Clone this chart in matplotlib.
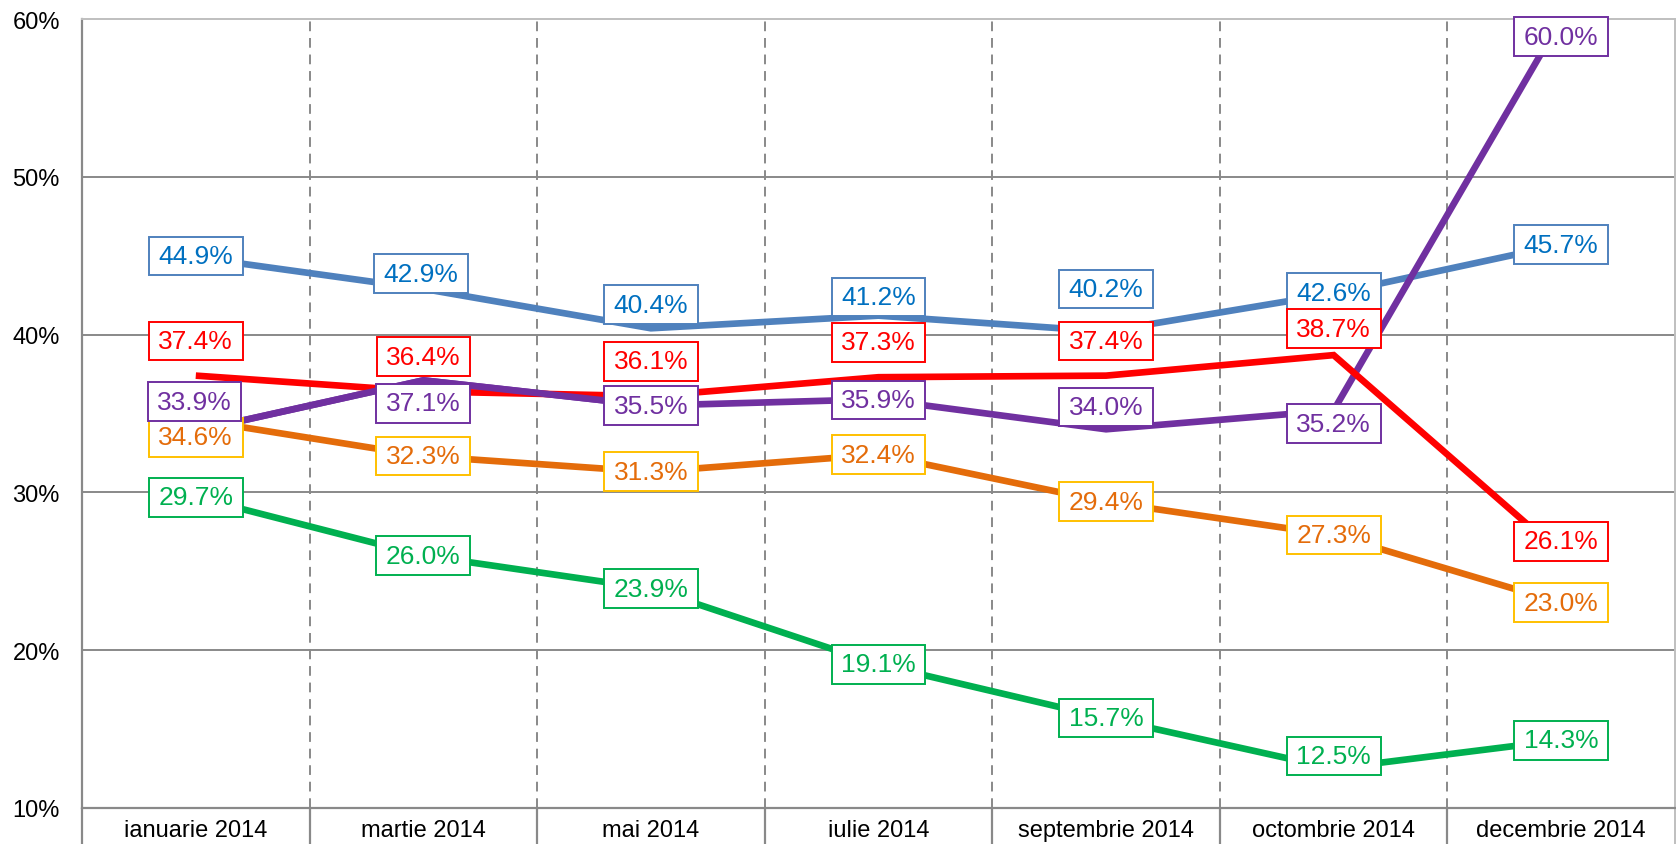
import matplotlib
matplotlib.use("Agg")
import matplotlib.pyplot as plt
from matplotlib.lines import Line2D
from matplotlib.path import Path

plt.rcParams['font.family'] = ['Liberation Sans', 'DejaVu Sans']

# ---- data ----
months = ["ianuarie 2014", "martie 2014", "mai 2014", "iulie 2014",
          "septembrie 2014", "octombrie 2014", "decembrie 2014"]
blue_vals = [44.9, 42.9, 40.4, 41.2, 40.2, 42.6, 45.7]
red_vals = [37.4, 36.4, 36.1, 37.3, 37.4, 38.7, 26.1]
purple_vals = [33.9, 37.1, 35.5, 35.9, 34.0, 35.2, 60.0]
orange_vals = [34.6, 32.3, 31.3, 32.4, 29.4, 27.3, 23.0]
green_vals = [29.7, 26.0, 23.9, 19.1, 15.7, 12.5, 14.3]
y_ticks = [10, 20, 30, 40, 50, 60]

# ---- label offsets (points, dx/dy) ----
blue_off = [(0, 1), (-2, 11), (0, 17), (0, 13.5), (0, 30.5), (0, 0.5), (0, 0)]
red_off = [(0, 25), (0, 25), (0, 25), (0, 25), (0, 25), (0, 19), (0, 9)]
purple_off = [(-1, 21), (0, -16.5), (0, 0), (0, -0.5), (0, 16), (0, -9.5), (0, -12.7)]
orange_off = [(0, -12.5), (0, 0), (0, 0), (0, 0), (0, 0), (0, 0), (0, 0)]
green_off = [(0, 0), (0, 0), (0, 0), (0, 0), (0, 0), (0, 9), (0, 0)]

series = [
    # values, line color, text color, box edge, zorder, offsets
    (blue_vals, "#4F81BD", "#0070C0", "#4F81BD", 3, blue_off),
    (orange_vals, "#E46C0A", "#E46C0A", "#FFC000", 4, orange_off),
    (green_vals, "#00B050", "#00B050", "#00B050", 4, green_off),
    (purple_vals, "#7030A0", "#7030A0", "#7030A0", 5, purple_off),
    (red_vals, "#FF0000", "#FF0000", "#FF0000", 6, red_off),
]


def label_box(x0, y0, width, height, mutation_size):
    """Rectangle with wider horizontal than vertical padding."""
    px = 0.36 * mutation_size
    py = 0.28 * mutation_size
    x0, y0 = x0 - px, y0 - py
    x1, y1 = x0 + width + 2 * px, y0 + height + 2 * py
    return Path([(x0, y0), (x1, y0), (x1, y1), (x0, y1), (x0, y0)],
                [Path.MOVETO, Path.LINETO, Path.LINETO, Path.LINETO, Path.CLOSEPOLY])


W, H = 1676, 845
fig = plt.figure(figsize=(W / 100, H / 100), dpi=100)
left, right, top, bottom = 82, 1675, 20, 809
ax = fig.add_axes([left / W, 1 - bottom / H, (right - left) / W, (bottom - top) / H])

x = list(range(len(months)))
ax.set_xlim(-0.5, len(months) - 0.5)
ax.set_ylim(10, 60)

# grid
for yv in y_ticks[1:-1]:
    ax.axhline(yv, color="#898989", lw=1.4, zorder=1)
for b in [i + 0.5 for i in range(len(months) - 1)]:
    ax.axvline(b, color="#898989", lw=1.4, ls=(0, (5, 3.5)), zorder=1)

for vals, lc, tc, ec, z, offs in series:
    ax.plot(x, vals, color=lc, lw=4.8, solid_capstyle="butt",
            solid_joinstyle="miter", zorder=z)
    for xi, v, (dx, dy) in zip(x, vals, offs):
        ax.annotate(f"{v:.1f}%", (xi, v), xytext=(dx, dy), textcoords="offset points",
                    ha="center", va="center", fontsize=19, color=tc, zorder=10,
                    annotation_clip=False,
                    bbox=dict(boxstyle=label_box, fc="white", ec=ec, lw=1.4))

# purple crosses over red in the first part of the year
ax.plot(x[:3], purple_vals[:3], color="#7030A0", lw=4.8, solid_capstyle="butt",
        solid_joinstyle="miter", zorder=6.5)

# spines
for s in ["top", "right"]:
    ax.spines[s].set_color("#BFBFBF")
    ax.spines[s].set_linewidth(1.4)
for s in ["left", "bottom"]:
    ax.spines[s].set_color("#898989")
    ax.spines[s].set_linewidth(1.6)

ax.set_yticks(y_ticks)
ax.set_yticklabels([f"{t}%" for t in y_ticks])
ax.tick_params(axis="y", length=0, pad=16, labelsize=17, colors="black")

ax.set_xticks(x)
ax.set_xticklabels(months)
ax.tick_params(axis="x", which="major", length=0, pad=8, labelsize=17, colors="black")
ax.set_xticks([i - 0.5 for i in range(len(months))], minor=True)
ax.tick_params(axis="x", which="minor", length=30, width=1.6, color="#898989", direction="out")

# right border extension below the axis
ax.add_line(Line2D([1, 1], [0, -0.06], transform=ax.transAxes, color="#BFBFBF",
                   lw=1.4, clip_on=False))

fig.savefig("out.png", dpi=100, facecolor="white")
